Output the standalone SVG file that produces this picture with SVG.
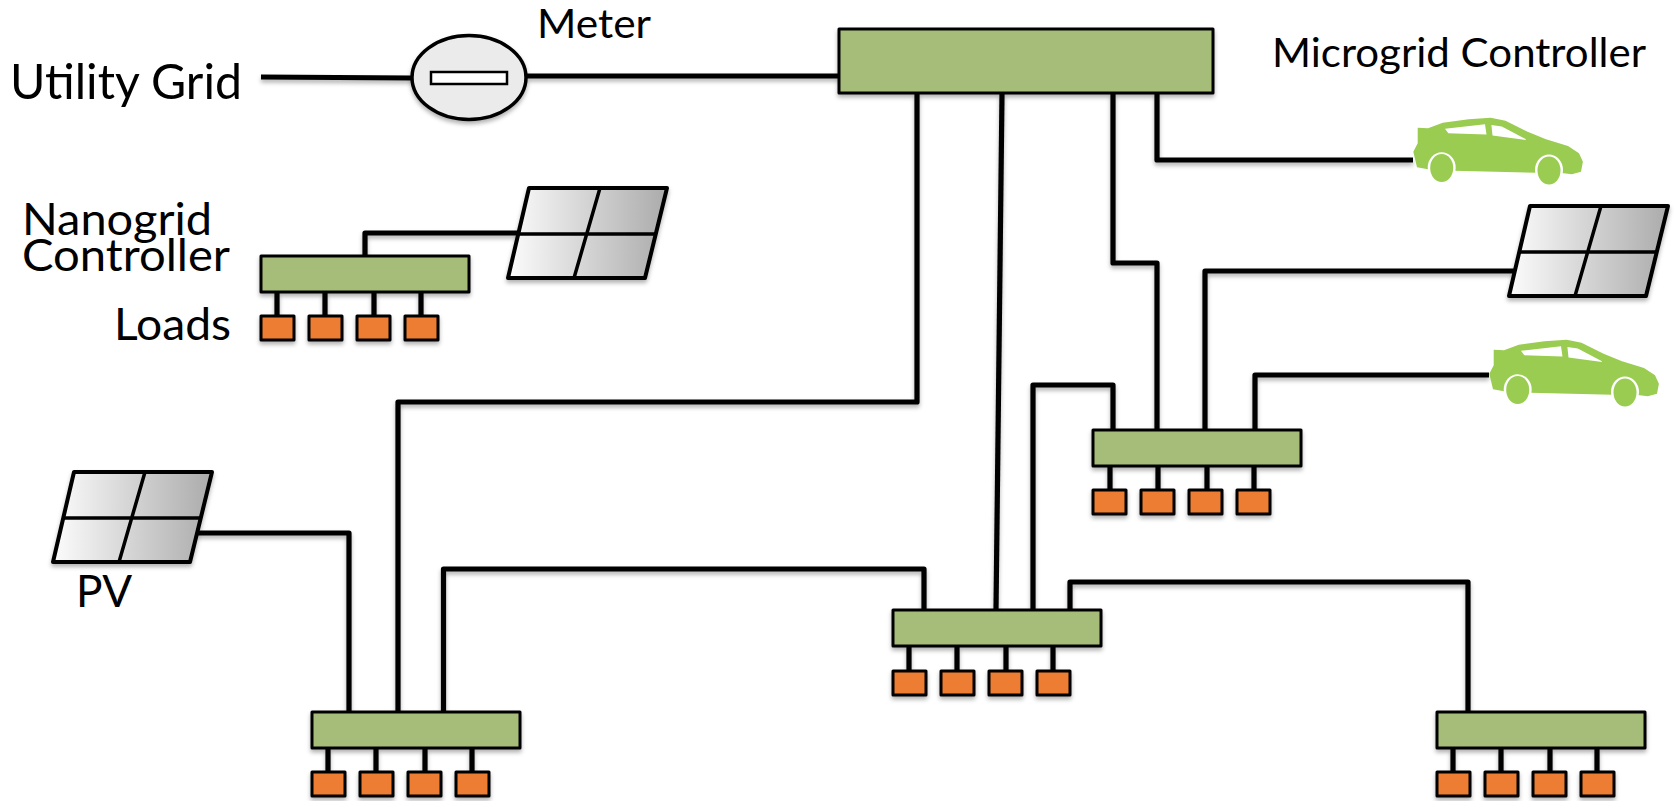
<svg xmlns="http://www.w3.org/2000/svg" width="1678" height="801" viewBox="0 0 1678 801">
<style>
text{font-family:"Lato","Open Sans","Liberation Sans",sans-serif;fill:#000}
.t1{font-size:40px}.t2{font-size:49px}.t3{font-size:45px}
.wire{fill:none;stroke:#000;stroke-width:5.2;stroke-linejoin:round}
.hub{fill:#A5BD78;stroke:#000;stroke-width:3;stroke-linejoin:round}
.load{fill:#ED7D31;stroke:#000;stroke-width:3;stroke-linejoin:round}
.pline{fill:none;stroke:#000;stroke-width:3.5;stroke-linejoin:round}
.carbody{fill:#99CC50}
</style>
<defs>
<filter id="sh" x="-10%" y="-20%" width="125%" height="150%"><feDropShadow dx="0" dy="3" stdDeviation="2" flood-color="#000" flood-opacity="0.3"/></filter>
<linearGradient id="pg" x1="0" y1="0" x2="1" y2="0"><stop offset="0" stop-color="#FCFCFC"/><stop offset="1" stop-color="#ABABAB"/></linearGradient>
<g id="loads"><rect class="load" x="0" y="0" width="33" height="24"/><rect class="load" x="48" y="0" width="33" height="24"/><rect class="load" x="96" y="0" width="33" height="24"/><rect class="load" x="144" y="0" width="33" height="24"/></g>
<path id="stems" class="wire" d="M16 0V24M64 0V24M113 0V24M160 0V24"/>
<g id="panel"><path d="M21 0H159L137 90H0Z" fill="url(#pg)" stroke="#000" stroke-width="4" stroke-linejoin="round"/><path class="pline" d="M11 46H148M92 0L66 90"/></g>
<g id="car">
<path class="carbody" d="M4.7 9.7L15 10.3L29.8 4.7L55.6 1.3L77.7 -.3L92.5 2.7L114.6 13.7L133 21.3L155 28L166 35.3L169.900 43.700L168 53.700L158.800 56.300L150.700 55.300L123.800 54.700L40.800 52.700L15 51.300L4 49.300L.3 33.700L4.700 25.300Z"/>
<ellipse cx="28.700" cy="49.700" rx="14" ry="15.500" fill="#fff"/><ellipse cx="28.700" cy="50" rx="11.500" ry="14" class="carbody"/>
<ellipse cx="136" cy="52" rx="14" ry="15.500" fill="#fff"/><ellipse cx="136" cy="52.500" rx="11.500" ry="14" class="carbody"/>
<path fill="#fff" d="M32 10.800L72 6.300L73.500 16.500L35.300 15.300ZM78.400 7L88.800 8.500L112.500 21L113 22L79.500 17.500Z"/>
</g>
</defs>
<rect width="1678" height="801" fill="#fff"/>
<g id="connectors" filter="url(#sh)">
<path class="wire" d="M261 77L412 78"/>
<path class="wire" d="M527 76H839"/>
<path class="wire" d="M917 94V402H398V712"/>
<path class="wire" d="M1002 94L996 610"/>
<path class="wire" d="M1113 94V263H1157V430"/>
<path class="wire" d="M1157 94V160H1413"/>
<path class="wire" d="M1515 271H1205V430"/>
<path class="wire" d="M1489 375H1255V430"/>
<path class="wire" d="M1113 430V385H1033V610"/>
<path class="wire" d="M443.500 712V569H924V610"/>
<path class="wire" d="M198 533H349V712"/>
<path class="wire" d="M1070 610V582H1468V712"/>
<path class="wire" d="M365 257V233H520"/>
</g>
<g id="label-utility"><text class="t2" x="10" y="99" textLength="232" lengthAdjust="spacingAndGlyphs">Utility Grid</text></g>
<g id="meter" filter="url(#sh)"><ellipse cx="469" cy="77.500" rx="57" ry="42" fill="#EBEBEB" stroke="#000" stroke-width="3.500"/><rect x="431" y="72" width="76" height="12" fill="#fff" stroke="#000" stroke-width="2.500"/></g>
<g id="label-meter"><text class="t1" x="537" y="38" textLength="114" lengthAdjust="spacingAndGlyphs">Meter</text></g>
<g id="microgrid-controller" filter="url(#sh)"><rect class="hub" x="839" y="29" width="374" height="64"/></g>
<g id="label-microgrid"><text class="t1" x="1272" y="67" textLength="374" lengthAdjust="spacingAndGlyphs">Microgrid Controller</text></g>
<g id="label-nanogrid"><text class="t3" x="22" y="235" textLength="190" lengthAdjust="spacingAndGlyphs">Nanogrid</text><text class="t3" x="22" y="271" textLength="208" lengthAdjust="spacingAndGlyphs">Controller</text></g>
<g id="label-loads"><text class="t3" x="114" y="340" textLength="117" lengthAdjust="spacingAndGlyphs">Loads</text></g>
<g id="label-pv"><text class="t3" x="76" y="607" textLength="56" lengthAdjust="spacingAndGlyphs">PV</text></g>
<g id="nanogrid" filter="url(#sh)"><use href="#stems" x="261" y="293"/><rect class="hub" x="261" y="256" width="208" height="36"/><use href="#loads" x="261" y="316"/></g>
<g id="hub-right" filter="url(#sh)"><use href="#stems" x="1094" y="466"/><rect class="hub" x="1093" y="430" width="208" height="36"/><use href="#loads" x="1093" y="490"/></g>
<g id="hub-middle" filter="url(#sh)"><use href="#stems" x="893" y="646"/><rect class="hub" x="893" y="610" width="208" height="36"/><use href="#loads" x="893" y="671"/></g>
<g id="hub-left" filter="url(#sh)"><use href="#stems" x="312" y="748"/><rect class="hub" x="312" y="712" width="208" height="36"/><use href="#loads" x="312" y="772"/></g>
<g id="hub-far" filter="url(#sh)"><use href="#stems" x="1437" y="748"/><rect class="hub" x="1437" y="712" width="208" height="36"/><use href="#loads" x="1437" y="772"/></g>
<g id="pv-nano" filter="url(#sh)"><use href="#panel" x="508" y="188"/></g>
<g id="pv-right" filter="url(#sh)"><use href="#panel" x="1509" y="206"/></g>
<g id="pv-left" filter="url(#sh)"><use href="#panel" x="53" y="472"/></g>
<g id="car-top"><use href="#car" x="1413" y="118"/></g>
<g id="car-lower"><use href="#car" x="1489" y="340"/></g>
</svg>
